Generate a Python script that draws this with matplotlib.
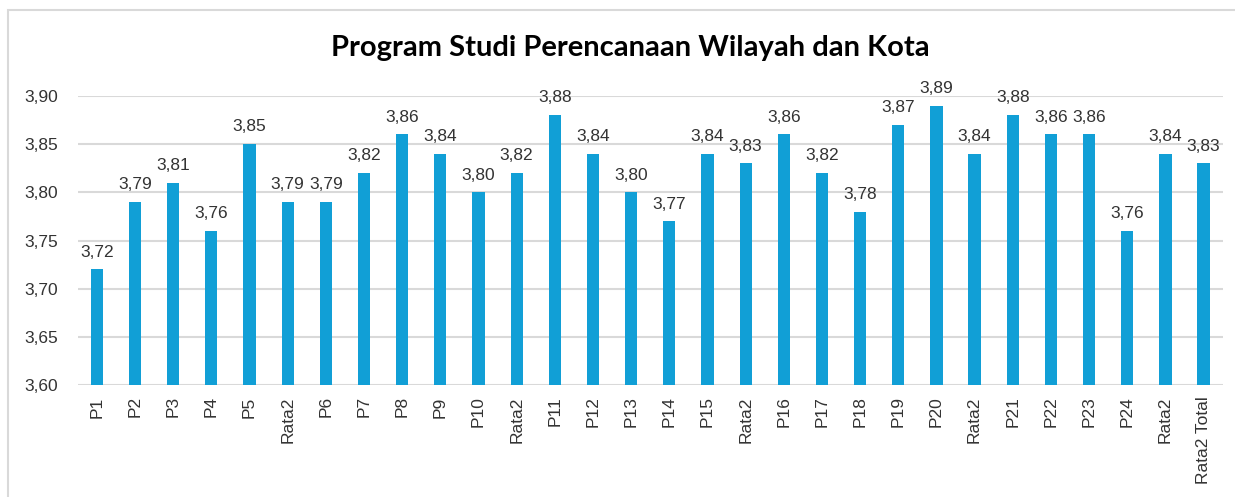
import matplotlib.pyplot as plt
from matplotlib.patches import Rectangle
from matplotlib.ticker import FuncFormatter

categories = ["P1", "P2", "P3", "P4", "P5", "Rata2",
              "P6", "P7", "P8", "P9", "P10", "Rata2",
              "P11", "P12", "P13", "P14", "P15", "Rata2",
              "P16", "P17", "P18", "P19", "P20", "Rata2",
              "P21", "P22", "P23", "P24", "Rata2", "Rata2 Total"]
values = [3.72, 3.79, 3.81, 3.76, 3.85, 3.79,
          3.79, 3.82, 3.86, 3.84, 3.80, 3.82,
          3.88, 3.84, 3.80, 3.77, 3.84, 3.83,
          3.86, 3.82, 3.78, 3.87, 3.89, 3.84,
          3.88, 3.86, 3.86, 3.76, 3.84, 3.83]
yticks = [3.60, 3.65, 3.70, 3.75, 3.80, 3.85, 3.90]

plt.rcParams['font.family'] = ['Liberation Sans', 'DejaVu Sans']

fig = plt.figure(figsize=(12.35, 4.97), dpi=100)
ax = fig.add_axes([0.063, 0.225, 0.927, 0.582])

# chart border (the screenshot is cropped on the right and bottom)
fig.patches.append(Rectangle((8 / 1235, -0.1), 1.2, 1 - 10 / 497 + 0.1,
                             transform=fig.transFigure, fill=False,
                             edgecolor='#d9d9d9', linewidth=1.5))

x = list(range(len(categories)))
ax.bar(x, values, width=0.32, color='#119fd6', zorder=3)

def comma(v, pos=None):
    return f"{v:.2f}".replace('.', ',')

for xi, v in zip(x, values):
    ax.annotate(comma(v), (xi, v), xytext=(0, 7), textcoords='offset points',
                ha='center', va='bottom', fontsize=12.5, color='#333333')

ax.set_ylim(3.60, 3.90)
ax.set_xlim(-0.5, len(categories) - 0.5)
ax.set_yticks(yticks)
ax.yaxis.set_major_formatter(FuncFormatter(comma))
ax.set_xticks(x)
ax.set_xticklabels(categories, rotation=90)
ax.tick_params(axis='both', length=0, labelsize=12.5, labelcolor='#333333')
ax.tick_params(axis='x', pad=8)
ax.tick_params(axis='y', pad=14)
ax.grid(axis='y', color='#d9d9d9', linewidth=1.5, zorder=0)
for s in ax.spines.values():
    s.set_visible(False)

fig.suptitle("Program Studi Perencanaan Wilayah dan Kota", x=0.51, y=0.93,
             fontsize=21, fontweight='bold', family='Lato', color='black')

fig.savefig('out.png', dpi=100)
